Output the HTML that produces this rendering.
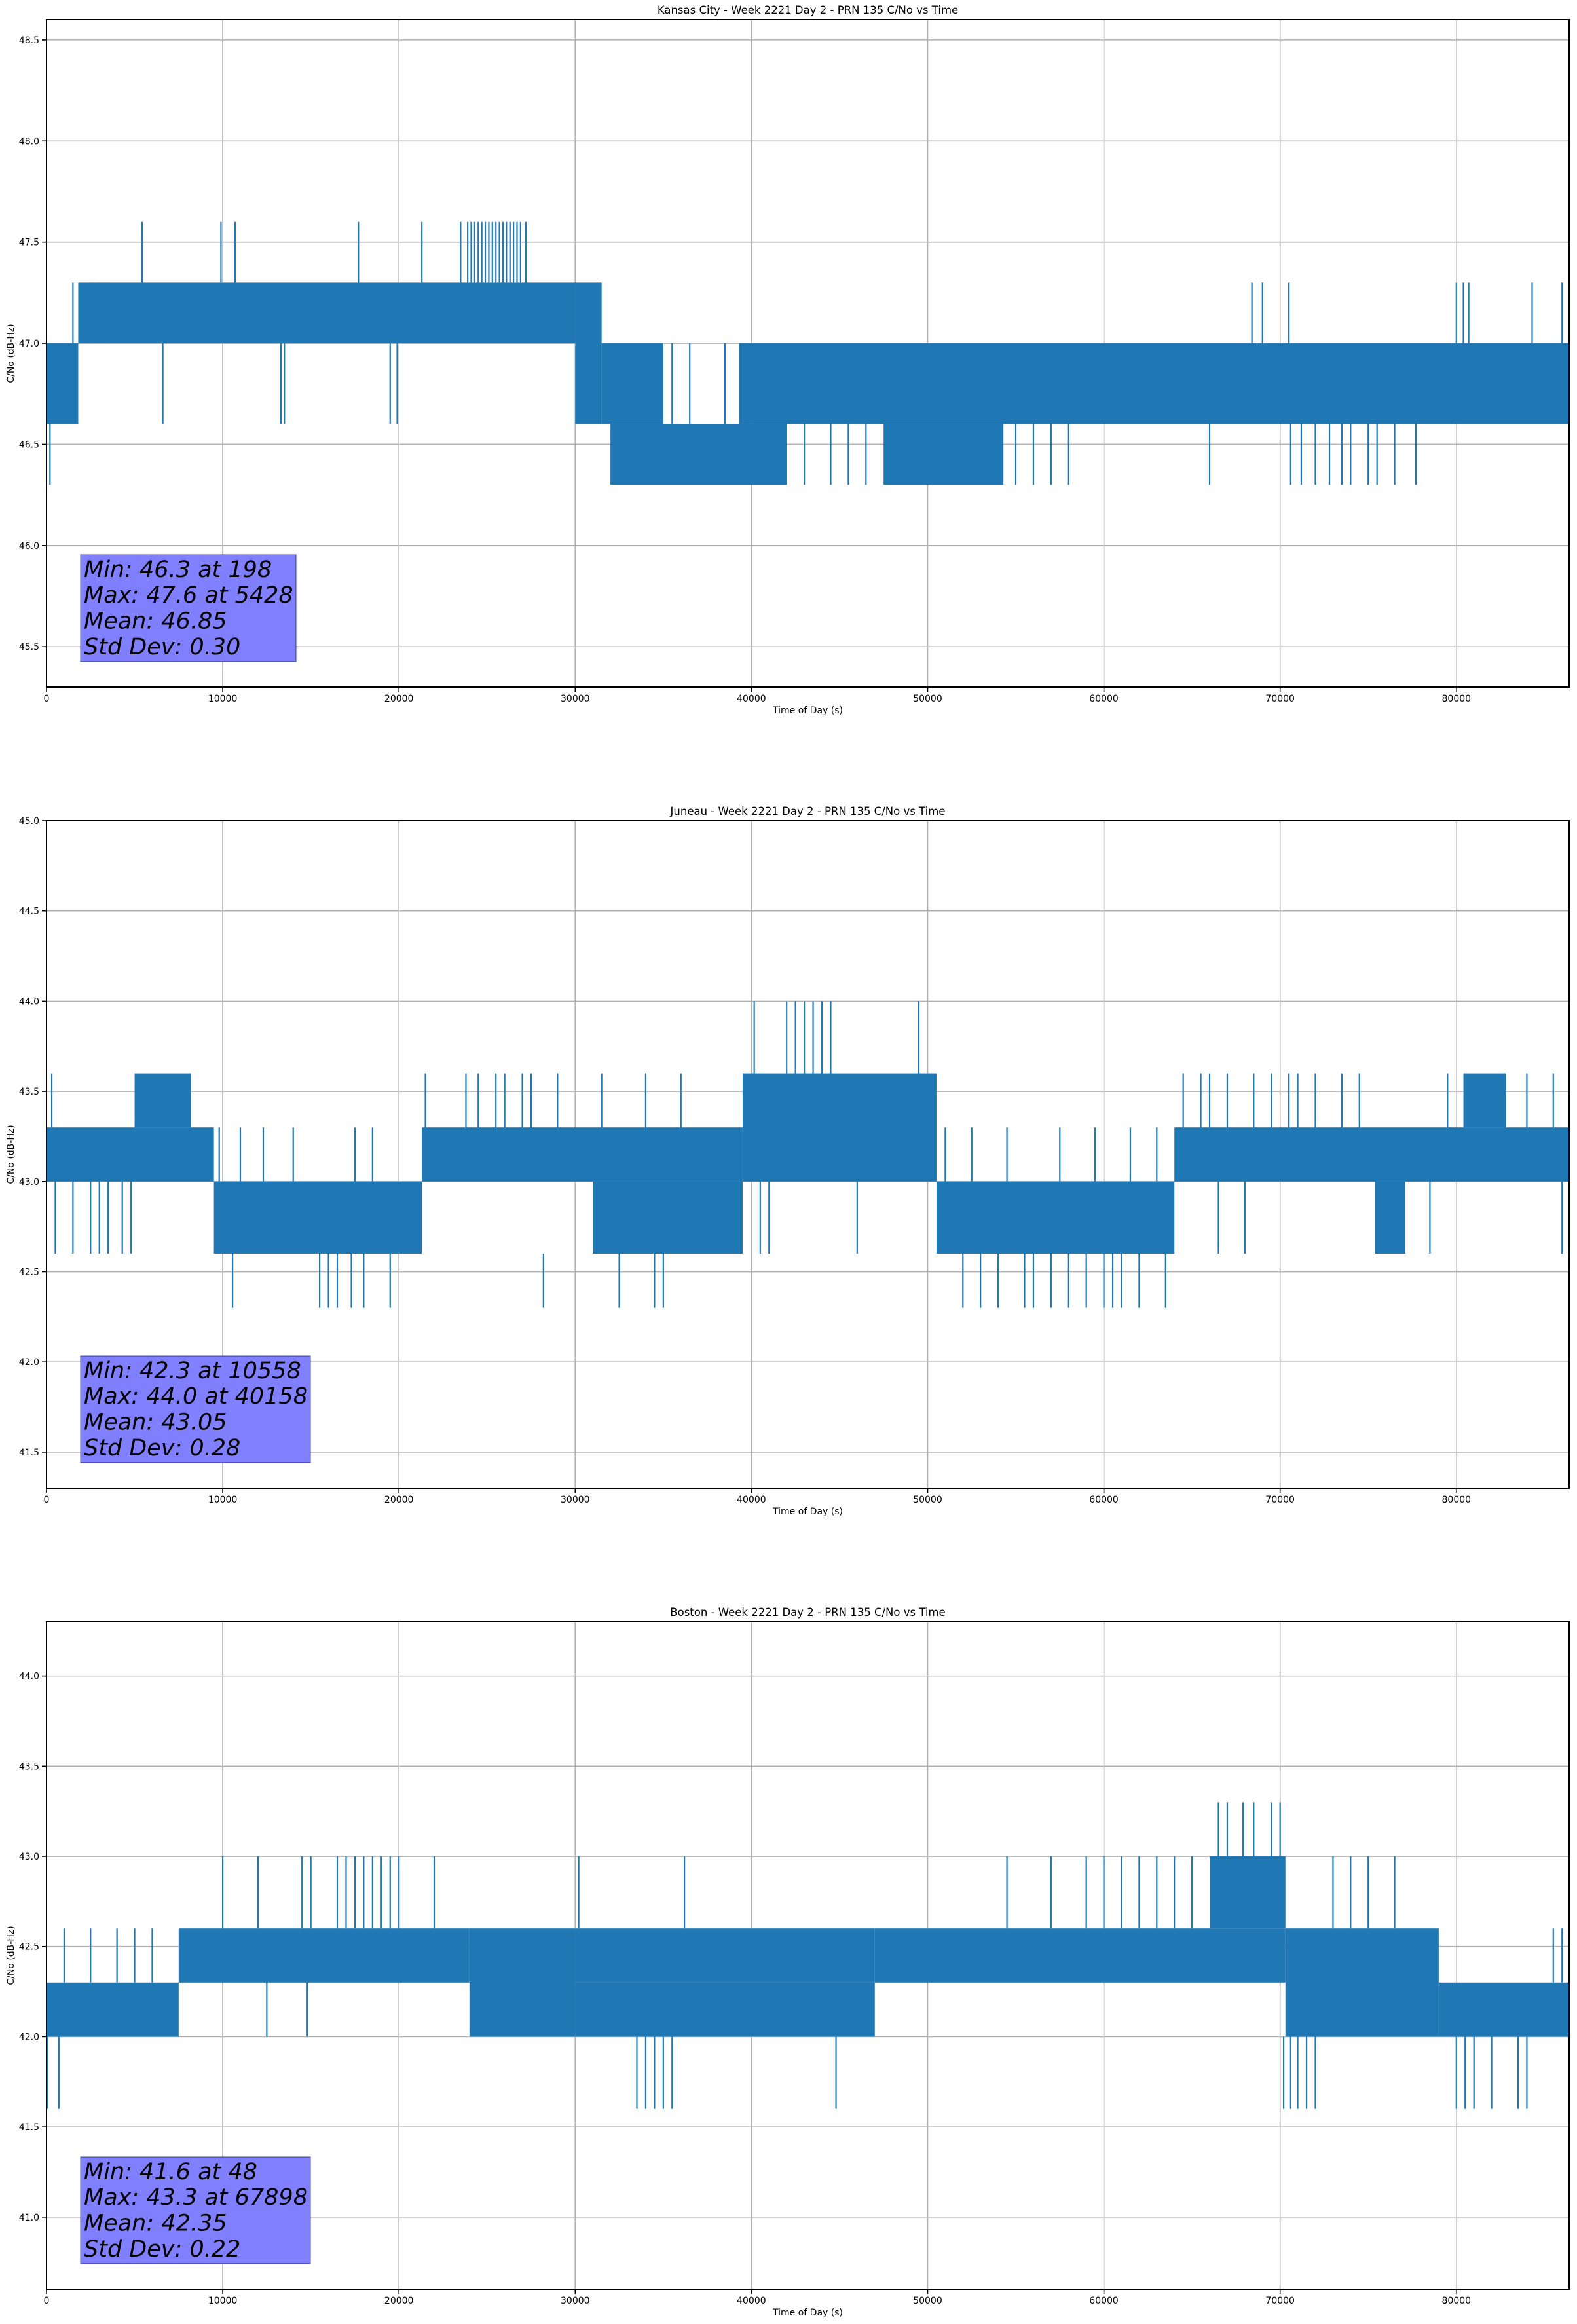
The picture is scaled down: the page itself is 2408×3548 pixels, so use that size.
<!DOCTYPE html>
<html>
<head>
<meta charset="utf-8">
<style>
  html,body{margin:0;padding:0;background:#fff;}
  svg{display:block;font-family:"DejaVu Sans","Liberation Sans",sans-serif;}
</style>
</head>
<body>
<svg id="chart" width="2408" height="3548" viewBox="0 0 2408 3548" xmlns="http://www.w3.org/2000/svg">
  <rect x="0" y="0" width="2408" height="3548" fill="#ffffff"/>
</svg>
<script>
// ---------------- data ----------------
const xTicks = [0, 10000, 20000, 30000, 40000, 50000, 60000, 70000, 80000];
const xTickLabels = ["0", "10000", "20000", "30000", "40000", "50000", "60000", "70000", "80000"];

// Kansas City
const kcTitle = "Kansas City - Week 2221 Day 2 - PRN 135 C/No vs Time";
const kcYRange = [45.3, 48.6];
const kcYTicks = [45.5, 46.0, 46.5, 47.0, 47.5, 48.0, 48.5];
const kcBands = [
  [0, 1800, 46.6, 47.0],
  [1800, 30000, 47.0, 47.3],
  [30000, 31500, 46.6, 47.3],
  [31500, 35000, 46.6, 47.0],
  [32000, 42000, 46.3, 46.6],
  [39300, 86400, 46.6, 47.0],
  [47500, 54300, 46.3, 46.6]
];
const kcSpikes = [
  [198, 46.6, 46.3], [1500, 47.0, 47.3], [2500, 47.0, 47.3], [3000, 47.0, 47.3], [3500, 47.0, 47.3],
  [5428, 47.3, 47.6], [9900, 47.3, 47.6], [10700, 47.3, 47.6], [17700, 47.3, 47.6], [21300, 47.3, 47.6],
  [23500, 47.3, 47.6], [23900, 47.3, 47.6], [24100, 47.3, 47.6], [24300, 47.3, 47.6], [24500, 47.3, 47.6],
  [24700, 47.3, 47.6], [24900, 47.3, 47.6], [25100, 47.3, 47.6], [25300, 47.3, 47.6], [25500, 47.3, 47.6],
  [25700, 47.3, 47.6], [25900, 47.3, 47.6], [26100, 47.3, 47.6], [26300, 47.3, 47.6], [26500, 47.3, 47.6],
  [26700, 47.3, 47.6], [26900, 47.3, 47.6], [27200, 47.3, 47.6],
  [6600, 47.0, 46.6], [13300, 47.0, 46.6], [13500, 47.0, 46.6], [19500, 47.0, 46.6], [19900, 47.0, 46.6],
  [35500, 46.6, 47.0], [36500, 46.6, 47.0], [38500, 46.6, 47.0],
  [43000, 46.6, 46.3], [44500, 46.6, 46.3], [45500, 46.6, 46.3], [46500, 46.6, 46.3],
  [55000, 46.6, 46.3], [56000, 46.6, 46.3], [57000, 46.6, 46.3], [58000, 46.6, 46.3], [66000, 46.6, 46.3],
  [68400, 47.0, 47.3], [69000, 47.0, 47.3], [70500, 47.0, 47.3], [80000, 47.0, 47.3], [80400, 47.0, 47.3],
  [80700, 47.0, 47.3], [84300, 47.0, 47.3], [86000, 47.0, 47.3],
  [70600, 46.6, 46.3], [71200, 46.6, 46.3], [72000, 46.6, 46.3], [72800, 46.6, 46.3], [73500, 46.6, 46.3],
  [74000, 46.6, 46.3], [75000, 46.6, 46.3], [75500, 46.6, 46.3], [76500, 46.6, 46.3], [77700, 46.6, 46.3]
];
const kcStats = ["Min: 46.3 at 198", "Max: 47.6 at 5428", "Mean: 46.85", "Std Dev: 0.30"];

// Juneau
const juTitle = "Juneau - Week 2221 Day 2 - PRN 135 C/No vs Time";
const juYRange = [41.3, 45.0];
const juYTicks = [41.5, 42.0, 42.5, 43.0, 43.5, 44.0, 44.5, 45.0];
const juBands = [
  [0, 9500, 43.0, 43.3],
  [5000, 8200, 43.3, 43.6],
  [9500, 21300, 42.6, 43.0],
  [21300, 39500, 43.0, 43.3],
  [31000, 39500, 42.6, 43.0],
  [39500, 50500, 43.0, 43.6],
  [50500, 64000, 42.6, 43.0],
  [64000, 86400, 43.0, 43.3],
  [75400, 77100, 42.6, 43.0],
  [80400, 82800, 43.3, 43.6]
];
const juSpikes = [
  [500, 43.0, 42.6], [1500, 43.0, 42.6], [2500, 43.0, 42.6], [3000, 43.0, 42.6], [3500, 43.0, 42.6], [4300, 43.0, 42.6], [4800, 43.0, 42.6],
  [300, 43.3, 43.6], [10558, 42.6, 42.3], [15500, 42.6, 42.3], [16000, 42.6, 42.3], [16500, 42.6, 42.3], [17300, 42.6, 42.3],
  [18000, 42.6, 42.3], [19500, 42.6, 42.3],
  [9800, 43.0, 43.3], [11000, 43.0, 43.3], [12300, 43.0, 43.3], [14000, 43.0, 43.3], [17500, 43.0, 43.3], [18500, 43.0, 43.3],
  [21500, 43.3, 43.6], [23800, 43.3, 43.6], [24500, 43.3, 43.6], [25500, 43.3, 43.6], [26000, 43.3, 43.6], [27000, 43.3, 43.6],
  [27500, 43.3, 43.6], [29000, 43.3, 43.6], [31500, 43.3, 43.6], [34000, 43.3, 43.6], [36000, 43.3, 43.6],
  [28200, 42.6, 42.3], [32500, 42.6, 42.3], [34500, 42.6, 42.3], [35000, 42.6, 42.3],
  [40158, 43.6, 44.0], [42000, 43.6, 44.0], [42500, 43.6, 44.0], [43000, 43.6, 44.0], [43500, 43.6, 44.0], [44000, 43.6, 44.0],
  [44500, 43.6, 44.0], [49500, 43.6, 44.0],
  [40500, 43.0, 42.6], [41000, 43.0, 42.6], [46000, 43.0, 42.6],
  [52000, 42.6, 42.3], [53000, 42.6, 42.3], [54000, 42.6, 42.3], [55500, 42.6, 42.3], [56000, 42.6, 42.3], [57000, 42.6, 42.3],
  [58000, 42.6, 42.3], [59000, 42.6, 42.3], [60000, 42.6, 42.3], [60500, 42.6, 42.3], [61000, 42.6, 42.3], [62000, 42.6, 42.3],
  [63500, 42.6, 42.3],
  [51000, 43.0, 43.3], [52500, 43.0, 43.3], [54500, 43.0, 43.3], [57500, 43.0, 43.3], [59500, 43.0, 43.3], [61500, 43.0, 43.3], [63000, 43.0, 43.3],
  [64500, 43.3, 43.6], [65500, 43.3, 43.6], [66000, 43.3, 43.6], [67000, 43.3, 43.6], [68500, 43.3, 43.6], [69500, 43.3, 43.6],
  [70500, 43.3, 43.6], [71000, 43.3, 43.6], [72000, 43.3, 43.6], [73500, 43.3, 43.6], [74500, 43.3, 43.6], [79500, 43.3, 43.6],
  [84000, 43.3, 43.6], [85500, 43.3, 43.6],
  [66500, 43.0, 42.6], [68000, 43.0, 42.6], [78500, 43.0, 42.6], [86000, 43.0, 42.6]
];
const juStats = ["Min: 42.3 at 10558", "Max: 44.0 at 40158", "Mean: 43.05", "Std Dev: 0.28"];

// Boston
const boTitle = "Boston - Week 2221 Day 2 - PRN 135 C/No vs Time";
const boYRange = [40.6, 44.3];
const boYTicks = [41.0, 41.5, 42.0, 42.5, 43.0, 43.5, 44.0];
const boBands = [
  [0, 7500, 42.0, 42.3],
  [7500, 24000, 42.3, 42.6],
  [24000, 30000, 42.0, 42.6],
  [30000, 47000, 42.0, 42.3],
  [30000, 47000, 42.3, 42.6],
  [47000, 70300, 42.3, 42.6],
  [66000, 70300, 42.6, 43.0],
  [70300, 79000, 42.0, 42.6],
  [79000, 86400, 42.0, 42.3]
];
const boSpikes = [
  [48, 42.0, 41.6], [700, 42.0, 41.6],
  [1000, 42.3, 42.6], [2500, 42.3, 42.6], [4000, 42.3, 42.6], [5000, 42.3, 42.6], [6000, 42.3, 42.6],
  [10000, 42.6, 43.0], [12000, 42.6, 43.0], [14500, 42.6, 43.0], [15000, 42.6, 43.0], [16500, 42.6, 43.0], [17000, 42.6, 43.0],
  [17500, 42.6, 43.0], [18000, 42.6, 43.0], [18500, 42.6, 43.0], [19000, 42.6, 43.0], [19500, 42.6, 43.0], [20000, 42.6, 43.0],
  [22000, 42.6, 43.0], [30200, 42.6, 43.0], [36200, 42.6, 43.0],
  [12500, 42.3, 42.0], [14800, 42.3, 42.0],
  [33500, 42.0, 41.6], [34000, 42.0, 41.6], [34500, 42.0, 41.6], [35000, 42.0, 41.6], [35500, 42.0, 41.6], [44800, 42.0, 41.6],
  [54500, 42.6, 43.0], [57000, 42.6, 43.0], [59000, 42.6, 43.0], [60000, 42.6, 43.0], [61000, 42.6, 43.0], [62000, 42.6, 43.0],
  [63000, 42.6, 43.0], [64000, 42.6, 43.0], [65000, 42.6, 43.0],
  [66500, 43.0, 43.3], [67000, 43.0, 43.3], [67898, 43.0, 43.3], [68500, 43.0, 43.3], [69500, 43.0, 43.3], [70000, 43.0, 43.3],
  [70200, 42.0, 41.6], [70600, 42.0, 41.6], [71000, 42.0, 41.6], [71500, 42.0, 41.6], [72000, 42.0, 41.6],
  [73000, 42.6, 43.0], [74000, 42.6, 43.0], [75000, 42.6, 43.0], [76500, 42.6, 43.0],
  [80000, 42.0, 41.6], [80500, 42.0, 41.6], [81000, 42.0, 41.6], [82000, 42.0, 41.6], [83500, 42.0, 41.6], [84000, 42.0, 41.6],
  [85500, 42.3, 42.6], [86000, 42.3, 42.6]
];
const boStats = ["Min: 41.6 at 48", "Max: 43.3 at 67898", "Mean: 42.35", "Std Dev: 0.22"];

// ---------------- layout ----------------
const NS = "http://www.w3.org/2000/svg";
const svg = document.getElementById("chart");
const LEFT = 71, RIGHT = 2396, PH = 1019, XMAX = 86400;
const LINE = "#1f77b4";

function mk(tag, attrs, parent) {
  const el = document.createElementNS(NS, tag);
  for (const k in attrs) el.setAttribute(k, attrs[k]);
  (parent || svg).appendChild(el);
  return el;
}

function drawPanel(key, top, title, yRange, yTicks, bands, spikes, stats, boxW) {
  const g = mk("g", {});
  
  
  const bottom = top + PH;
  const xs = t => LEFT + (t / XMAX) * (RIGHT - LEFT);
  const ys = v => bottom - (v - yRange[0]) / (yRange[1] - yRange[0]) * PH;

  const grid = mk("g", {stroke: "#b0b0b0", "stroke-width": 1.6}, g);
  
  
  xTicks.forEach(t => mk("line", {x1: xs(t), x2: xs(t), y1: top, y2: bottom}, grid));
  yTicks.forEach(v => mk("line", {x1: LEFT, x2: RIGHT, y1: ys(v), y2: ys(v)}, grid));

  const series = mk("g", {}, g);
  
  
  bands.forEach(b => {
    const r = mk("rect", {x: xs(b[0]), y: ys(b[3]), width: xs(b[1]) - xs(b[0]), height: ys(b[2]) - ys(b[3]), fill: LINE}, series);
    
    
  });
  spikes.forEach(s => {
    const l = mk("line", {x1: xs(s[0]), x2: xs(s[0]), y1: ys(s[1]), y2: ys(s[2]), stroke: LINE, "stroke-width": 2.2}, series);
    
    
  });

  const frame = mk("rect", {x: LEFT, y: top, width: RIGHT - LEFT, height: PH, fill: "none", stroke: "#000", "stroke-width": 2}, g);
  
  

  const xt = mk("g", {}, g);
  
  
  xTicks.forEach((t, i) => {
    mk("line", {x1: xs(t), x2: xs(t), y1: bottom, y2: bottom + 7, stroke: "#000", "stroke-width": 1.6}, xt);
    const tx = mk("text", {x: xs(t), y: bottom + 22, "font-size": 14, "text-anchor": "middle", fill: "#000"}, xt);
    tx.textContent = xTickLabels[i];
    
    
  });
  const xl = mk("text", {x: (LEFT + RIGHT) / 2, y: bottom + 40, "font-size": 14, "text-anchor": "middle", fill: "#000"}, g);
  xl.textContent = "Time of Day (s)";
  
  

  const yt = mk("g", {}, g);
  
  
  yTicks.forEach(v => {
    mk("line", {x1: LEFT - 7, x2: LEFT, y1: ys(v), y2: ys(v), stroke: "#000", "stroke-width": 1.6}, yt);
    const tx = mk("text", {x: LEFT - 11, y: ys(v) + 5, "font-size": 14, "text-anchor": "end", fill: "#000"}, yt);
    tx.textContent = v.toFixed(1);
    
    
  });
  const cy = (top + bottom) / 2;
  const yl = mk("text", {x: 0, y: 0, "font-size": 14, "text-anchor": "middle", fill: "#000", transform: `translate(21 ${cy}) rotate(-90)`}, g);
  yl.textContent = "C/No (dB-Hz)";
  
  

  const tt = mk("text", {x: (LEFT + RIGHT) / 2, y: top - 9, "font-size": 16.5, "text-anchor": "middle", fill: "#000"}, g);
  tt.textContent = title;
  
  

  const sb = mk("g", {}, g);
  
  
  mk("rect", {x: 123, y: top + 817, width: boxW, height: 163, fill: "#8080ff", stroke: "rgba(0,0,80,0.45)", "stroke-width": 1.5}, sb);
  const bases = [851, 890, 929.5, 969];
  stats.forEach((s, i) => {
    const tx = mk("text", {x: 128, y: top + bases[i], "font-size": 35, "font-style": "italic", fill: "#000"}, sb);
    tx.textContent = s;
    
    
  });
}

drawPanel("kansas-city", 30, kcTitle, kcYRange, kcYTicks, kcBands, kcSpikes, kcStats, 329);
drawPanel("juneau", 1253, juTitle, juYRange, juYTicks, juBands, juSpikes, juStats, 351);
drawPanel("boston", 2476, boTitle, boYRange, boYTicks, boBands, boSpikes, boStats, 351);
</script>
</body>
</html>
